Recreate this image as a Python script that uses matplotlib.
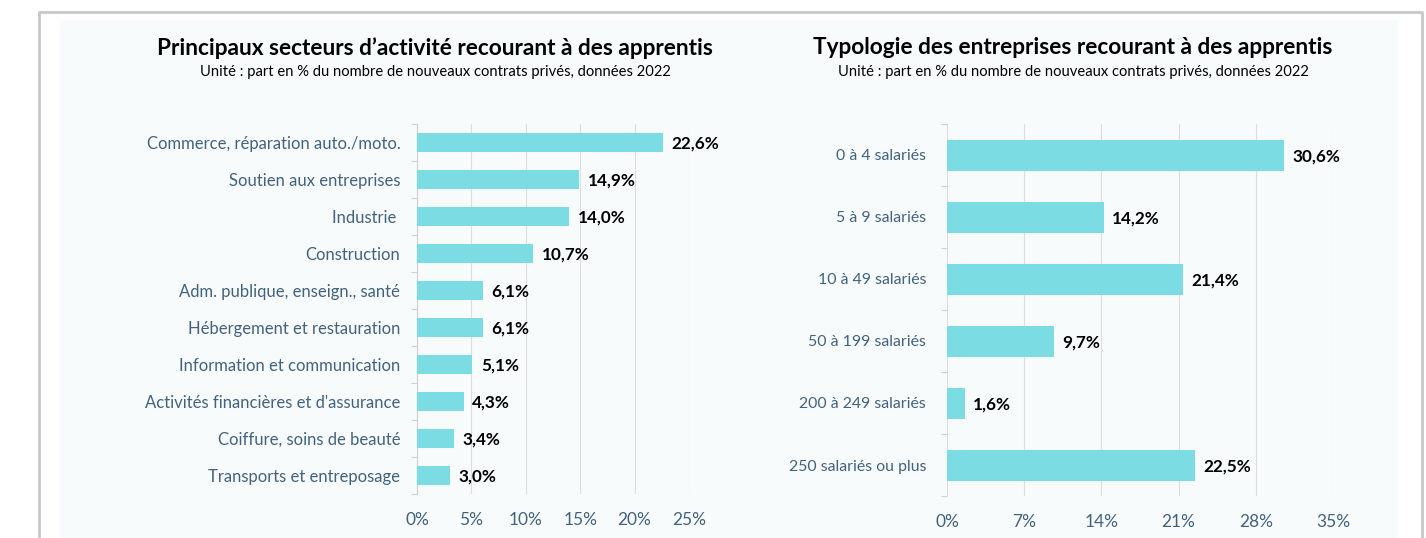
import matplotlib
matplotlib.use("Agg")
import matplotlib.pyplot as plt
from matplotlib.patches import Rectangle
from matplotlib.lines import Line2D
from matplotlib.ticker import FuncFormatter, FixedLocator

plt.rcParams['font.family'] = ['Lato', 'DejaVu Sans']

# ---- data ----
sectors = ["Commerce, réparation auto./moto.", "Soutien aux entreprises", "Industrie ",
           "Construction", "Adm. publique, enseign., santé", "Hébergement et restauration",
           "Information et communication", "Activités financières et d'assurance",
           "Coiffure, soins de beauté", "Transports et entreposage"]
sector_values = [22.6, 14.9, 14.0, 10.7, 6.1, 6.1, 5.1, 4.3, 3.4, 3.0]
sector_ticks = [0, 5, 10, 15, 20, 25]

sizes = ["0 à 4 salariés", "5 à 9 salariés", "10 à 49 salariés", "50 à 199 salariés",
         "200 à 249 salariés", "250 salariés ou plus"]
size_values = [30.6, 14.2, 21.4, 9.7, 1.6, 22.5]
size_ticks = [0, 7, 14, 21, 28, 35]

title_left = "Principaux secteurs d’activité recourant à des apprentis"
title_right = "Typologie des entreprises recourant à des apprentis"
subtitle = "Unité : part en % du nombre de nouveaux contrats privés, données 2022"

BAR = "#7BDDE3"
LABEL = "#42627F"
GRID = "#DDDDDD"

W, H = 1426, 538
fig = plt.figure(figsize=(W / 100, H / 100), dpi=100)
fig.patch.set_facecolor("white")

# background panel and frame
fig.patches.append(Rectangle((60 / W, 0), (1398 - 60) / W, 1 - 20 / H, transform=fig.transFigure,
                             facecolor="#F8FBFC", edgecolor="none", zorder=-10))
fig.lines.append(Line2D([39 / W, 39 / W, 1422 / W, 1422 / W], [0, 1 - 12 / H, 1 - 12 / H, 0],
                        transform=fig.transFigure, color="#C8C8C8", lw=2.0, zorder=-5))


def fmt(v):
    return f"{v:.1f}".replace(".", ",") + "%"


def make(ax_rect, cats, vals, ticks, title, tcx, show_spine, lab_fs, ypad):
    ax = fig.add_axes(ax_rect, zorder=5)
    ax.set_facecolor("none")
    y = list(range(len(cats)))
    ax.barh(y, vals, height=0.5, color=BAR, zorder=3)
    ax.set_yticks(y)
    ax.set_yticklabels(cats, color=LABEL, fontsize=lab_fs)
    ax.yaxis.set_minor_locator(FixedLocator([i + 0.5 for i in range(-1, len(cats))]))
    ax.set_ylim(len(cats) - 0.5, -0.5)
    ax.set_xlim(ticks[0], ticks[-1])
    ax.xaxis.set_major_locator(FixedLocator(ticks))
    ax.xaxis.set_major_formatter(FuncFormatter(lambda v, p: f"{v:.0f}%"))
    ax.tick_params(axis="x", length=0, colors=LABEL, labelsize=12.5, pad=13)
    ax.tick_params(axis="y", which="major", length=0, pad=ypad)
    ax.tick_params(axis="y", which="minor", length=4, width=0.8, color="#D0D0D0")
    ax.grid(axis="x", color=GRID, lw=0.8, zorder=0)
    for s in ["top", "right", "bottom"]:
        ax.spines[s].set_visible(False)
    if show_spine:
        ax.spines["left"].set_color("#D0D0D0")
    else:
        ax.spines["left"].set_visible(False)
    for yi, v in zip(y, vals):
        ax.annotate(fmt(v), (v, yi), xytext=(6, -1), textcoords="offset points",
                    va="center", ha="left", fontsize=12.3, fontweight="bold",
                    color="black", zorder=4)
    fig.text(tcx / W, 1 - 48 / H, title, ha="center", va="center", fontsize=16.3,
             fontweight="bold", color="black")
    fig.text(tcx / W, 1 - 72 / H, subtitle, ha="center", va="center", fontsize=10.6,
             color="black")
    return ax


make([417 / W, 1 - 494 / H, (689 - 417) / W, (494 - 124) / H],
     sectors, sector_values, sector_ticks, title_left, 435, True, 12, 12)
make([947 / W, 1 - 496 / H, (1333 - 947) / W, (496 - 124) / H],
     sizes, size_values, size_ticks, title_right, 1073, False, 11.4, 15)

fig.savefig("out.png", dpi=100)
